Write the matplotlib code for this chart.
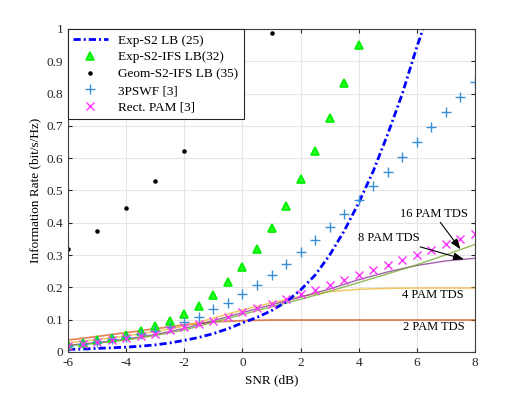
import matplotlib
matplotlib.use('Agg')
import matplotlib.pyplot as plt

plt.rcParams['font.family'] = ['Liberation Serif', 'DejaVu Serif']
plt.rcParams['axes.unicode_minus'] = False
plt.rcParams['font.size'] = 9

# Exp-S2 LB (25)
snr_lb = [-6, -5.5, -5, -4.5, -4, -3.5, -3, -2.5, -2, -1.5, -1, -0.5, 0, 0.5, 1,
          1.5, 2, 2.5, 3, 3.5, 4, 4.5, 5, 5.5, 6, 6.25]
rate_lb = [0.008, 0.009, 0.011, 0.013, 0.015, 0.018, 0.022, 0.028, 0.036, 0.045,
           0.057, 0.072, 0.090, 0.107, 0.128, 0.155, 0.192, 0.238, 0.300, 0.375,
           0.462, 0.560, 0.675, 0.800, 0.945, 1.01]

# Exp-S2-IFS LB (32)
snr_ifs = [-6, -5.5, -5, -4.5, -4, -3.5, -3, -2.5, -2, -1.5, -1, -0.5, 0, 0.5, 1,
           1.5, 2, 2.5, 3, 3.5, 4]
rate_ifs = [0.022, 0.029, 0.036, 0.043, 0.053, 0.064, 0.079, 0.095, 0.119, 0.143,
            0.176, 0.218, 0.262, 0.318, 0.383, 0.452, 0.536, 0.623, 0.724, 0.833,
            0.950]

# Geom-S2-IFS LB (35)
snr_geom = [-6, -5, -4, -3, -2, -1, 0, 1]
rate_geom = [0.318, 0.375, 0.447, 0.529, 0.621, 0.735, 0.852, 0.988]

# 3PSWF [3] and Rect. PAM [3]
snr_ref = [-6, -5.5, -5, -4.5, -4, -3.5, -3, -2.5, -2, -1.5, -1, -0.5, 0, 0.5, 1,
           1.5, 2, 2.5, 3, 3.5, 4, 4.5, 5, 5.5, 6, 6.5, 7, 7.5, 8]
rate_pswf = [0.019, 0.025, 0.032, 0.039, 0.047, 0.056, 0.065, 0.078, 0.094, 0.109,
             0.132, 0.153, 0.179, 0.206, 0.238, 0.272, 0.310, 0.347, 0.386, 0.427,
             0.471, 0.514, 0.558, 0.604, 0.649, 0.696, 0.742, 0.789, 0.836]
rate_rect = [0.019, 0.025, 0.031, 0.037, 0.043, 0.049, 0.057, 0.067, 0.077, 0.088,
             0.097, 0.109, 0.125, 0.135, 0.150, 0.165, 0.180, 0.193, 0.207, 0.223,
             0.237, 0.254, 0.269, 0.285, 0.301, 0.316, 0.334, 0.349, 0.365]

# TDS curves
snr_tds = [-6, -5, -4, -3, -2, -1, 0, 1, 2, 3, 4, 5, 6, 7, 8]
pam2 = [0.037, 0.048, 0.060, 0.072, 0.084, 0.093, 0.097, 0.099, 0.099, 0.099,
        0.099, 0.099, 0.099, 0.099, 0.099]
pam4 = [0.029, 0.038, 0.050, 0.063, 0.080, 0.105, 0.130, 0.152, 0.172, 0.187,
        0.194, 0.197, 0.198, 0.198, 0.198]
pam8 = [0.021, 0.029, 0.040, 0.054, 0.073, 0.097, 0.122, 0.146, 0.170, 0.195,
        0.224, 0.248, 0.268, 0.282, 0.290]
pam16 = [0.019, 0.027, 0.037, 0.051, 0.068, 0.092, 0.116, 0.140, 0.163, 0.188,
         0.215, 0.242, 0.270, 0.301, 0.333]

fig = plt.figure(figsize=(5.26, 3.95), dpi=100)
ax = fig.add_axes([0.1293, 0.1089, 0.7738, 0.8177])

ax.plot(snr_tds, pam2, color='#D95319', lw=1.3, alpha=0.7)
ax.plot(snr_tds, pam4, color='#EDB120', lw=1.1, alpha=0.7)
ax.plot(snr_tds, pam8, color='#7E2F8E', lw=1.0, alpha=0.75)
ax.plot(snr_tds, pam16, color='#77AC30', lw=1.0, alpha=0.8)

ax.plot(snr_lb, rate_lb, '-.', color='#0000FF', lw=2, dashes=[2.6, 1.1, 0.7, 1.1],
        label='Exp-S2 LB (25)')
ax.plot(snr_ifs, rate_ifs, '^', color='#00EE00', mfc='#22FF22', ms=5.5,
        mew=1.2, label='Exp-S2-IFS LB(32)')
ax.plot(snr_geom, rate_geom, '.', color='black', ms=4.5,
        label='Geom-S2-IFS LB (35)')
ax.plot(snr_ref, rate_pswf, '+', color='#3A8FD6', ms=7, mew=1,
        label='3PSWF [3]')
ax.plot(snr_ref, rate_rect, 'x', color='#FF33FF', ms=5.5, mew=1,
        label='Rect. PAM [3]')

arrow = dict(arrowstyle='-|>,head_length=0.7,head_width=0.25', color='black',
             lw=0.8, shrinkA=0, shrinkB=0)
ax.annotate('16 PAM TDS', xy=(7.5, 0.318), xytext=(6.58, 0.41),
            ha='center', va='bottom', fontsize=9, arrowprops=arrow)
ax.annotate('8 PAM TDS', xy=(7.62, 0.287), xytext=(5.05, 0.334),
            ha='center', va='bottom', fontsize=9, arrowprops=arrow)
ax.text(6.55, 0.176, '4 PAM TDS', ha='center', va='center', fontsize=9)
ax.text(6.58, 0.076, '2 PAM TDS', ha='center', va='center', fontsize=9)

ax.set_xlim(-6, 8)
ax.set_ylim(0, 1)
ax.set_xticks(range(-6, 9, 2))
ax.set_yticks([i / 10 for i in range(11)])
ax.set_yticklabels(['0', '0.1', '0.2', '0.3', '0.4', '0.5', '0.6', '0.7',
                    '0.8', '0.9', '1'])
ax.grid(True, color='#E6E6E6', lw=0.8)
ax.set_axisbelow(True)
ax.tick_params(direction='in', top=True, right=True, length=3,
               colors='#262626', labelsize=9.5)
for s in ax.spines.values():
    s.set_color('#404040')
    s.set_linewidth(0.8)
ax.set_xlabel('SNR (dB)', fontsize=9.5)
ax.set_ylabel('Information Rate (bit/s/Hz)', fontsize=9.5)

leg = ax.legend(loc='upper left', borderaxespad=0, fontsize=9.5,
                fancybox=False, framealpha=1, edgecolor='#262626',
                handlelength=2.6, labelspacing=0.35)
leg.get_frame().set_linewidth(0.8)

fig.savefig('out.png', dpi=100)
